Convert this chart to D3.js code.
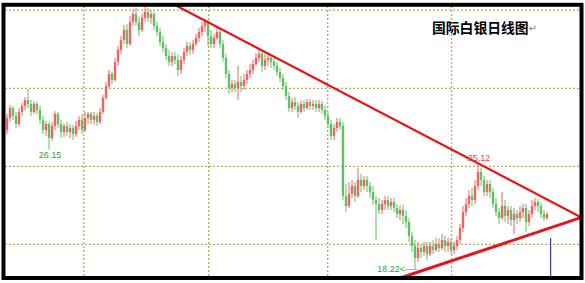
<!DOCTYPE html>
<html>
<head>
<meta charset="utf-8">
<script src="https://cdn.jsdelivr.net/npm/d3@7/dist/d3.min.js"></script>
<style>
  html, body { margin: 0; padding: 0; background: #fff; }
  svg { display: block; }
</style>
</head>
<body>
<svg id="chart" width="585" height="283"></svg>
<script>
// Daily silver candles (USD/oz), oldest first
const opens = [
  27.44,28.24,28.90,28.37,27.84,28.64,29.04,29.43,29.17,28.64,29.17,28.77,28.11,27.44,27.84,26.91,27.71,28.50,27.84,27.31,
  27.71,27.31,27.58,27.18,27.71,28.11,27.44,28.24,28.50,28.11,28.37,27.97,28.64,29.57,30.36,31.16,30.76,31.96,32.75,33.42,
  34.08,33.15,34.61,35.14,34.61,34.08,34.88,35.27,34.88,35.14,34.34,33.95,33.28,32.88,32.35,31.96,32.35,32.09,31.42,32.09,
  32.62,33.02,32.75,33.15,33.55,33.95,34.34,34.61,33.68,33.15,33.55,33.95,33.15,32.22,31.16,30.23,30.50,30.23,30.63,30.36,
  30.76,31.16,31.42,31.82,32.22,32.49,31.69,32.09,32.22,31.96,31.69,31.29,30.89,30.36,29.70,28.90,29.30,29.04,28.64,29.17,
  28.90,29.30,29.04,29.17,28.90,29.17,28.77,28.37,27.84,27.05,27.58,27.97,27.71,23.06,22.40,23.20,23.73,23.06,24.13,23.73,
  24.13,23.73,23.33,22.80,22.53,22.13,22.53,22.80,22.40,22.67,22.27,21.87,22.13,21.74,21.34,20.41,19.75,18.95,19.61,19.35,
  19.75,19.21,19.75,19.48,19.88,19.61,20.14,19.75,20.01,19.48,19.75,20.14,20.94,22.00,22.53,23.06,22.80,23.73,24.66,24.13,
  23.33,23.86,23.33,22.53,22.00,21.60,22.40,21.74,22.13,21.47,21.87,21.60,22.00,22.27,21.34,21.87,22.40,22.67,22.40,21.87,
  21.60
];
const highs = [
  28.50,29.10,29.04,28.64,28.90,29.23,29.63,30.16,29.43,29.37,29.30,29.04,28.37,28.04,27.97,27.97,28.70,28.64,28.11,27.84,
  27.97,27.84,27.78,28.04,28.37,28.50,28.64,28.64,28.64,28.64,28.57,28.90,29.77,30.63,31.42,31.29,32.22,33.02,33.68,34.41,
  34.48,35.01,35.41,35.54,34.94,35.14,35.67,35.54,35.41,35.27,34.61,34.21,33.68,33.15,32.75,32.62,32.62,32.49,32.35,32.88,
  33.28,33.28,33.42,33.81,34.21,34.61,34.81,34.74,34.08,33.81,34.21,34.21,33.42,32.49,31.42,30.76,30.76,31.69,31.03,31.16,
  31.42,31.82,32.09,32.55,32.75,32.62,32.49,32.49,32.35,32.22,31.96,31.56,31.16,30.63,29.96,29.57,29.63,29.30,29.43,29.43,
  29.50,29.50,29.43,29.43,29.43,29.37,29.04,28.64,28.11,27.84,28.24,28.24,27.97,23.86,23.99,24.13,23.99,24.92,24.52,24.39,
  24.39,23.99,23.73,23.06,22.93,22.80,23.06,23.06,22.93,22.93,22.53,22.47,22.53,22.13,21.60,20.67,20.14,20.01,19.88,20.01,
  20.01,20.01,20.14,20.28,20.28,20.54,20.41,20.28,20.28,20.01,20.41,21.21,22.40,22.93,23.46,23.59,24.13,25.12,24.92,24.39,
  24.13,24.13,23.59,22.93,22.27,23.33,22.80,22.40,22.40,22.27,22.13,22.40,22.53,22.53,22.13,22.80,22.93,22.86,22.67,22.13,
  22.00
];
const lows = [
  27.18,27.97,28.11,27.58,27.71,28.37,28.77,28.90,28.37,28.50,28.50,27.84,27.18,27.05,26.15,26.71,27.44,27.58,26.91,26.98,
  27.05,26.91,26.78,26.98,27.44,27.18,27.31,27.84,27.84,27.78,27.71,27.84,28.50,29.43,30.23,30.50,30.63,31.69,32.49,33.15,
  32.88,33.02,34.34,34.34,33.68,33.95,34.61,34.61,34.48,34.08,33.68,33.02,32.62,32.09,31.69,31.69,31.82,31.03,31.16,31.82,
  32.35,32.42,32.49,33.02,33.28,33.68,33.95,33.02,32.88,32.88,33.42,32.88,31.96,30.89,29.83,29.96,29.96,29.43,29.96,30.10,
  30.50,30.89,31.16,31.69,31.96,31.29,31.42,31.69,31.56,31.42,31.03,30.63,30.10,29.43,28.64,28.64,28.77,28.24,28.50,28.64,
  28.77,28.77,28.77,28.64,28.64,28.50,28.11,27.58,26.78,26.78,27.31,27.44,22.80,22.00,22.27,22.93,22.67,22.93,23.33,23.46,
  23.33,22.93,22.47,20.14,21.87,21.87,22.13,22.13,22.13,22.00,21.60,21.47,21.21,20.94,20.01,19.35,18.22,18.68,18.95,19.08,
  18.82,19.08,19.21,19.35,19.35,19.48,19.35,19.35,19.21,19.21,19.48,19.88,20.67,21.74,22.27,22.40,22.53,23.46,23.73,23.06,
  23.06,22.93,22.27,21.74,21.21,21.47,21.34,21.21,21.07,20.54,21.21,21.34,21.60,20.67,21.07,21.60,22.13,22.00,21.60,21.40,
  21.47
];
const closes = [
  28.24,28.90,28.37,27.84,28.64,29.04,29.43,29.17,28.64,29.17,28.77,28.11,27.44,27.84,26.91,27.71,28.50,27.84,27.31,27.71,
  27.31,27.58,27.18,27.71,28.11,27.44,28.24,28.50,28.11,28.37,27.97,28.64,29.57,30.36,31.16,30.76,31.96,32.75,33.42,34.08,
  33.15,34.61,35.14,34.61,34.08,34.88,35.27,34.88,35.14,34.34,33.95,33.28,32.88,32.35,31.96,32.35,32.09,31.42,32.09,32.62,
  33.02,32.75,33.15,33.55,33.95,34.34,34.61,33.68,33.15,33.55,33.95,33.15,32.22,31.16,30.23,30.50,30.23,30.63,30.36,30.76,
  31.16,31.42,31.82,32.22,32.49,31.69,32.09,32.22,31.96,31.69,31.29,30.89,30.36,29.70,28.90,29.30,29.04,28.64,29.17,28.90,
  29.30,29.04,29.17,28.90,29.17,28.77,28.37,27.84,27.05,27.58,27.97,27.71,23.06,22.40,23.20,23.73,23.06,24.13,23.73,24.13,
  23.73,23.33,22.80,22.53,22.13,22.53,22.80,22.40,22.67,22.27,21.87,22.13,21.74,21.34,20.41,19.75,18.95,19.61,19.35,19.75,
  19.21,19.75,19.48,19.88,19.61,20.14,19.75,20.01,19.48,19.75,20.14,20.94,22.00,22.53,23.06,22.80,23.73,24.66,24.13,23.33,
  23.86,23.33,22.53,22.00,21.60,22.40,21.74,22.13,21.47,21.87,21.60,22.00,22.27,21.34,21.87,22.40,22.67,22.40,21.87,21.60,
  21.87
];

// Horizontal grid levels (price) and vertical grid positions (bar index)
const gridPrices = [19.86, 25.03, 30.21, 35.39];
const gridBars = [25.6, 67.2, 106.9, 148.2];

// Triangle trend lines: [startBar, startPrice, endBar, endPrice]
const upperTrend = [56, 35.74, 191.5, 21.64];
const lowerTrend = [131, 17.62, 191.5, 21.64];

// Annotated extremes: bar index, price, text
const notes = [
  { bar: 14, price: 26.15, text: "26.15", kind: "low" },
  { bar: 157, price: 25.12, text: "25.12", kind: "high" },
  { bar: 136, price: 18.22, text: "18.22<----", kind: "arrow" }
];

// Current-bar marker
const markerBar = 181.2;
const markerPrice = 20.28;

const title = "国际白银日线图";

const W = 585, H = 283;
const svg = d3.select("#chart");

const x = d3.scaleLinear().domain([0, closes.length - 1]).range([7, 547]);
const y = d3.scaleLinear().domain([18.22, 25.12]).range([269, 165]);

const UP = "#ef6464", DOWN = "#62c062";

// Slight softening for the dense candle cluster
const defs = svg.append("defs");
defs.append("filter").attr("id", "soft")
  .attr("x", "-5%").attr("y", "-5%").attr("width", "110%").attr("height", "110%")
  .append("feGaussianBlur").attr("stdDeviation", 0.35);

svg.append("rect").attr("width", W).attr("height", H).attr("fill", "#fff");

// Grid
const gridG = svg.append("g")
  .attr("stroke", "#adad66")
  .attr("stroke-width", 1.3)
  .attr("stroke-dasharray", "2,2");
gridG.selectAll("line.h").data(gridPrices).join("line")
  .attr("class", "h")
  .attr("x1", 5).attr("x2", 580)
  .attr("y1", d => y(d)).attr("y2", d => y(d));
gridG.selectAll("line.v").data(gridBars).join("line")
  .attr("class", "v")
  .attr("y1", 6).attr("y2", 277)
  .attr("x1", d => x(d)).attr("x2", d => x(d));

// Candles
const bars = d3.range(closes.length).map(i => ({
  i, o: opens[i], h: highs[i], l: lows[i], c: closes[i]
}));
const cg = svg.append("g").attr("filter", "url(#soft)");
const candle = cg.selectAll("g").data(bars).join("g")
  .attr("stroke", d => d.c >= d.o ? UP : DOWN)
  .attr("fill", d => d.c >= d.o ? UP : DOWN);
candle.append("line")
  .attr("x1", d => x(d.i)).attr("x2", d => x(d.i))
  .attr("y1", d => y(d.h)).attr("y2", d => y(d.l))
  .attr("stroke-width", 1);
candle.append("rect")
  .attr("stroke", "none")
  .attr("x", d => x(d.i) - 1.2)
  .attr("width", 2.4)
  .attr("y", d => y(Math.max(d.o, d.c)))
  .attr("height", d => Math.max(1, Math.abs(y(d.o) - y(d.c))));

// Trend lines
const trend = svg.append("g").attr("stroke", "#e8141a").attr("fill", "none").attr("stroke-linecap", "round");
trend.append("line")
  .attr("x1", x(upperTrend[0])).attr("y1", y(upperTrend[1]))
  .attr("x2", x(upperTrend[2])).attr("y2", y(upperTrend[3]))
  .attr("stroke-width", 2.2);
trend.append("line")
  .attr("x1", x(lowerTrend[0])).attr("y1", y(lowerTrend[1]))
  .attr("x2", x(lowerTrend[2])).attr("y2", y(lowerTrend[3]))
  .attr("stroke-width", 3);

// Marker
svg.append("line")
  .attr("x1", x(markerBar)).attr("x2", x(markerBar))
  .attr("y1", y(markerPrice)).attr("y2", 277)
  .attr("stroke", "#3c3ca0").attr("stroke-width", 1.2);

// Price annotations
svg.selectAll("text.note").data(notes).join("text")
  .attr("class", "note")
  .attr("font-family", "'Liberation Sans', Arial, sans-serif")
  .attr("font-size", 9)
  .attr("fill", d => d.kind === "high" ? "#e04848" : "#3aa03a")
  .attr("text-anchor", d => d.kind === "arrow" ? "end" : "middle")
  .attr("x", d => d.kind === "arrow" ? x(d.bar) + 2 : x(d.bar) + 1)
  .attr("y", d => d.kind === "low" ? y(d.price) + 9 : d.kind === "high" ? y(d.price) - 4.5 : y(d.price) + 2.5)
  .text(d => d.text);

// Title
const t = svg.append("text")
  .attr("x", 432).attr("y", 33)
  .attr("font-family", "'Noto Sans CJK SC', sans-serif")
  .attr("font-weight", 700)
  .attr("font-size", 13.8)
  .attr("fill", "#000");
t.append("tspan").text(title);
t.append("tspan")
  .attr("font-family", "'DejaVu Sans', sans-serif")
  .attr("font-weight", 400)
  .attr("font-size", 10)
  .attr("fill", "#888")
  .attr("dy", -1)
  .text("↵");

// Frame
svg.append("rect")
  .attr("x", 3.5).attr("y", 4.8)
  .attr("width", 578).attr("height", 273.2)
  .attr("fill", "none")
  .attr("stroke", "#000")
  .attr("stroke-width", 4);
</script>
</body>
</html>
